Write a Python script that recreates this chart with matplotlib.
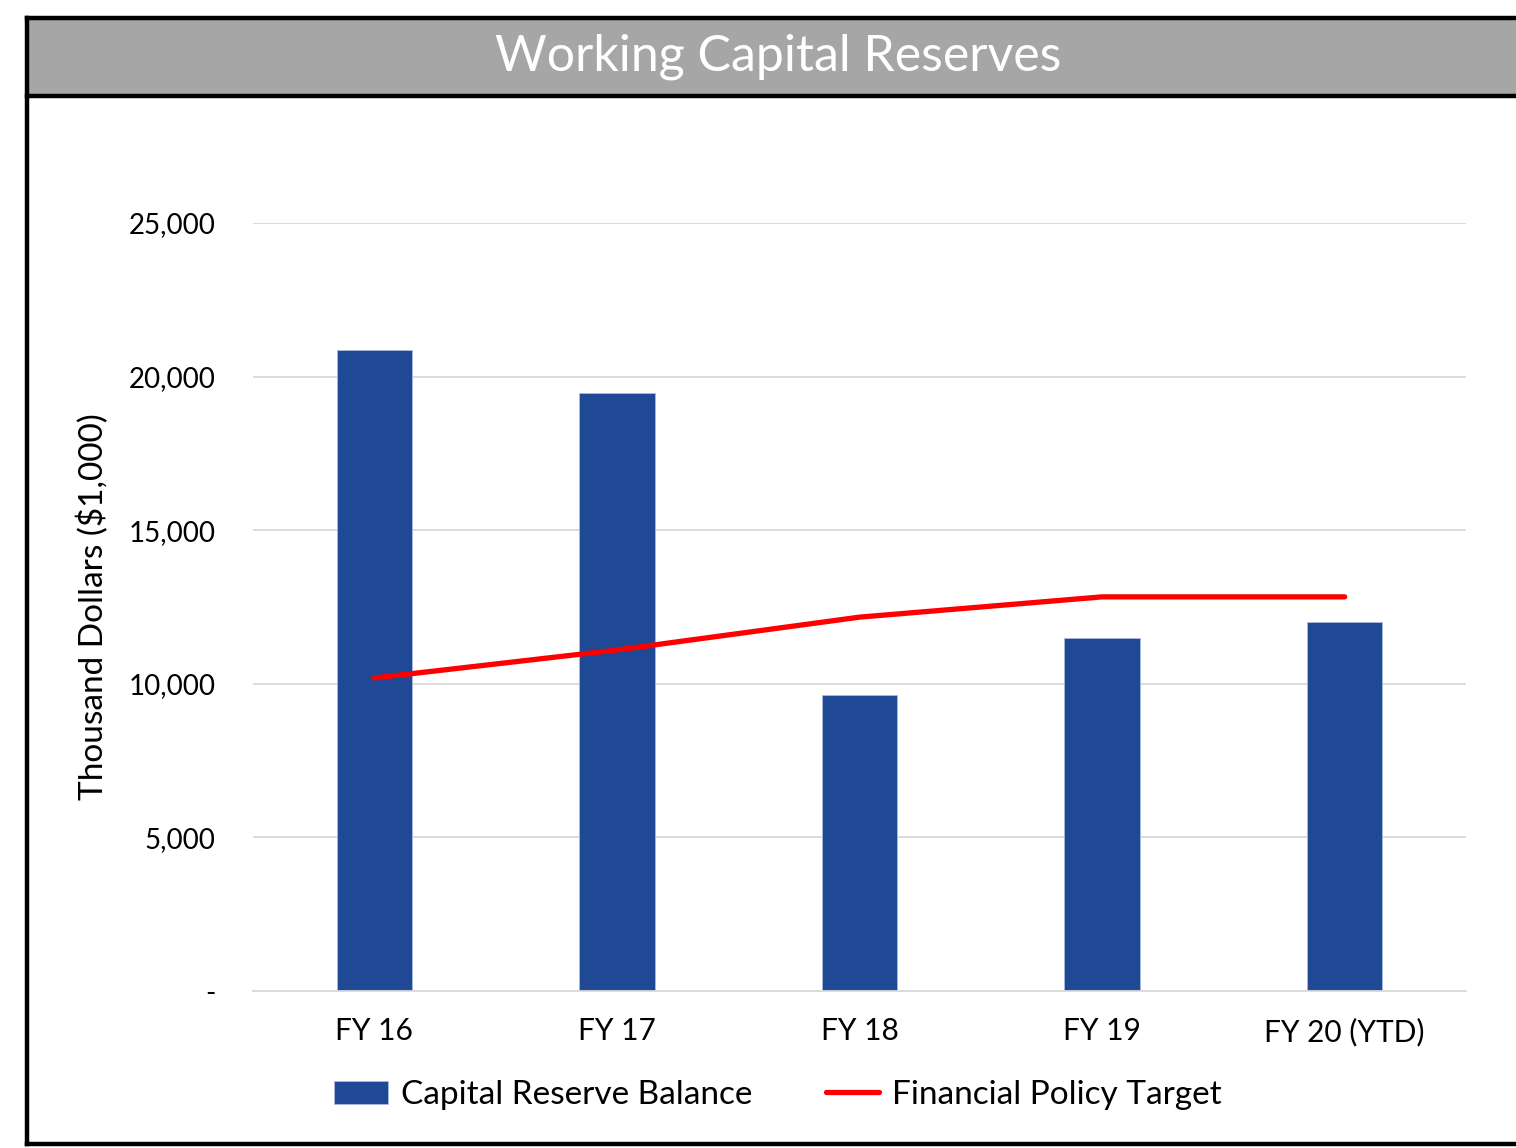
import matplotlib
matplotlib.use("Agg")
import matplotlib.pyplot as plt
from matplotlib.patches import Rectangle
from matplotlib.lines import Line2D
from matplotlib.ticker import FuncFormatter
import numpy as np

plt.rcParams['font.family'] = ['Lato', 'DejaVu Sans']

categories = ["FY 16", "FY 17", "FY 18", "FY 19", "FY 20 (YTD)"]
reserve_balance = [20870, 19470, 9640, 11490, 12010]
policy_target = [10190, 11100, 12170, 12830, 12830]

W, H = 1516, 1148
fig = plt.figure(figsize=(W / 100, H / 100), dpi=100)
fig.patch.set_facecolor("white")

# frame and title band (figure pixel coords -> fractions)
def fx(px):
    return px / W

def fy(py):
    return 1 - py / H

fig.patches.append(Rectangle((fx(29), fy(96)), fx(1520) - fx(29), fy(19) - fy(96),
                             transform=fig.transFigure, facecolor="#A6A6A6",
                             edgecolor="none", zorder=0))
for (x0, y0, x1, y1) in [(27, 18, 1520, 18), (27, 96, 1520, 96),
                         (27, 18, 27, 1144), (27, 1144, 1520, 1144)]:
    fig.lines.append(Line2D([fx(x0), fx(x1)], [fy(y0), fy(y1)], transform=fig.transFigure,
                            color="black", lw=3.2, solid_capstyle="projecting"))

fig.text(fx(778), fy(57), "Working Capital Reserves", color="white", fontsize=36,
         ha="center", va="center")

ax = fig.add_axes([fx(253), fy(991), fx(1466) - fx(253), fy(223) - fy(991)])
x = np.arange(len(categories))
bars = ax.bar(x, reserve_balance, 0.31, color="#1F4995", edgecolor="#A9BCDF",
              linewidth=0.6, label="Capital Reserve Balance", zorder=2)
line, = ax.plot(x, policy_target, color="#FF0000", lw=3.8, solid_capstyle="round",
                label="Financial Policy Target", zorder=3)

ax.set_xlim(-0.5, len(categories) - 0.5)
ax.set_ylim(0, 25000)
ax.set_yticks(np.arange(0, 25001, 5000))
ax.yaxis.set_major_formatter(FuncFormatter(lambda v, p: "-" if v == 0 else f"{v:,.0f}"))
ax.set_xticks(x, categories)
ax.grid(axis="y", color="#D9D9D9", lw=1.3, zorder=0)
ax.set_axisbelow(True)
for s in ["top", "right", "left"]:
    ax.spines[s].set_visible(False)
ax.spines["bottom"].set_color("#D9D9D9")
ax.spines["bottom"].set_linewidth(1.3)
ax.tick_params(axis="both", length=0, colors="black")
ax.tick_params(axis="y", pad=27, labelsize=20)
ax.tick_params(axis="x", pad=19, labelsize=21.5)
ax.set_ylabel("Thousand Dollars ($1,000)", fontsize=24, labelpad=14)

fig.legend(handles=[bars, line], loc="center", bbox_to_anchor=(fx(778), fy(1095)),
           ncol=2, frameon=False, fontsize=24, handlelength=1.6, handleheight=0.7,
           columnspacing=2.2, handletextpad=0.4)

fig.savefig("out.png", dpi=100)
